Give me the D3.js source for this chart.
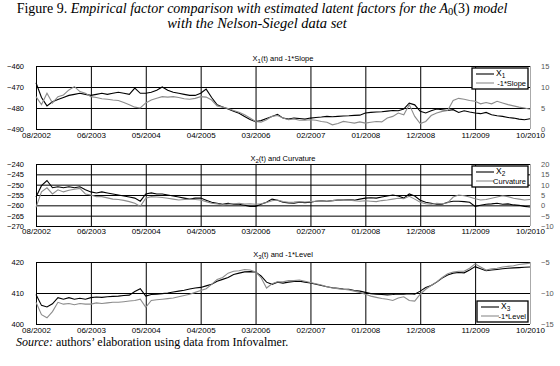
<!DOCTYPE html>
<html>
<head>
<meta charset="utf-8">
<script src="https://cdnjs.cloudflare.com/ajax/libs/d3/7.8.5/d3.min.js"></script>
<style>
  body { margin: 0; background: #fff; }
</style>
</head>
<body>
<div id="chart"></div>
<script>
// x axis labels, one every 10 samples
var tickLabels = ["08/2002", "06/2003", "05/2004", "04/2005", "03/2006",
  "02/2007", "01/2008", "12/2008", "11/2009", "10/2010"];

// panel 1 : X1 (left axis) and -1*Slope (right axis)
var x1 = [
  -468, -475, -479, -477, -476, -475, -474, -473.5, -473, -473.5,
  -474, -473.5, -473, -473.5, -473, -472.5, -473, -473.5, -470.5, -473,
  -473, -472.5, -471.5, -470, -471.5, -472.5, -473, -473.5, -474, -474,
  -473, -471, -475, -478.5, -479.5, -480.5, -481.5, -482.5, -484, -485.5,
  -486.5, -486, -485, -484, -483, -484.8, -485.3, -484.8, -485, -485.3,
  -484.8, -484.5, -484.3, -484, -484.2, -484, -483.8, -483.7, -483.5, -483.4,
  -482.4, -482.1, -481.9, -481.8, -481.5, -481.2, -481.3, -480.5, -477.7, -478.5,
  -481.6, -482.4, -481.3, -480.5, -480.8, -481.2, -480.8, -482.1, -481.3, -481.9,
  -482.4, -482.7, -482.1, -483.2, -483.7, -484, -484.5, -484.8, -485.3, -485.6,
  -485.1
];
var slope = [
  7.7, 5.8, 8.5, 6.2, 7.7, 8.1, 9.3, 10.1, 8.9, 8.5,
  7.7, 7.5, 7.2, 7.1, 6.9, 6.8, 6.3, 5.8, 5.2, 5.0,
  6.2, 6.9, 7.3, 7.7, 7.6, 7.7, 7.5, 7.2, 7.1, 7.3,
  7.7, 7.6, 6.9, 5.5, 5.2, 4.9, 4.4, 4.0, 3.4, 2.6,
  1.8, 1.6, 2.2, 3.0, 3.2, 2.6, 2.2, 2.4, 2.1, 2.1,
  2.2, 2.1, 1.8, 1.6, 1.0, 1.3, 1.8, 1.6, 1.4, 1.7,
  1.4, 1.6, 1.8, 1.7, 2.6, 3.0, 3.8, 3.4, 5.8, 3.0,
  1.3, 1.8, 3.2, 3.8, 4.2, 4.4, 6.8, 7.3, 7.1, 6.8,
  6.6, 6.0, 6.3, 6.0, 6.6, 6.2, 5.8, 5.5, 5.2, 5.0,
  4.7
];

// panel 2 : X2 (left axis) and Curvature (right axis)
var x2 = [
  -256, -250.5, -248, -251.5, -251, -251.5, -251, -251.5, -251, -252.5,
  -253.5, -254, -253.5, -254, -254.5, -255, -255.5, -256, -256.5, -258,
  -254.5, -254, -254.5, -254.5, -255, -255.5, -256, -256.5, -257, -256.5,
  -256.5, -257.5, -258.5, -259, -259.5, -259, -259.5, -259.5, -260, -260.5,
  -260.5, -259.5, -258.5, -257, -257.5, -258.5, -258.8, -259, -258.5, -258.7,
  -258.5, -258, -257.8, -258, -257.7, -257.5, -257.5, -257.3, -257.5, -257,
  -256.5, -256.3, -256.5, -256, -255.5, -255, -255.5, -256.5, -254.5, -255.5,
  -257.5, -258.5, -259, -259.5, -259.5, -258.5, -258, -258, -258.2, -258.5,
  -260.5, -260, -259.5, -259.3, -259, -259.5, -259.3, -259.8, -260, -260.5,
  -260.8
];
var curvature = [
  -1, 6.5, 8.5, 5.5, 7.5, 6.5, 7.3, 7.8, 8.2, 5.5,
  5.0, 4.2, 4.2, 3.6, 3.0, 2.8, 2.4, 1.8, 1.0, -0.5,
  3.4, 4.2, 4.0, 3.8, 3.4, 3.0, 2.6, 2.8, 3.0, 2.8,
  2.6, 1.8, 1.0, 0.7, 0.2, 0.5, 0.8, 1.0, 0.6, 0.8,
  0.5, 0.8, 1.4, 2.2, 2.6, 1.8, 1.5, 1.6, 1.8, 1.6,
  1.8, 2.0, 2.2, 2.0, 2.3, 2.6, 2.4, 2.5, 2.2, 2.0,
  2.2, 2.0, 1.8, 2.3, 2.6, 3.0, 3.4, 3.2, 4.4, 3.0,
  1.5, 0.8, 0.5, 1.0, 0.8, 1.2, 4.0, 5.0, 4.6, 4.0,
  3.2, 2.6, 2.8, 3.4, 4.0, 4.6, 4.2, 3.4, 3.0, 2.6,
  2.8
];

// panel 3 : X3 (left axis) and -1*Level (right axis)
var x3 = [
  409.5, 406, 405.5, 406.5, 408.5, 408, 408.5, 408, 408.3, 408,
  408.5, 408.7, 408.6, 408.8, 408.9, 409, 409.2, 409.3, 410.5, 411.4,
  409, 409.5, 409.6, 409.8, 410, 410.3, 410.6, 410.9, 411.3, 411.6,
  411.8, 412.3, 412.8, 413.8, 414.4, 415, 416, 416.4, 416.8, 416.9,
  416.8, 415.5, 413.5, 412.8, 413.5, 413.2, 413.5, 413.7, 413.8, 413.5,
  413.2, 412.8, 412.4, 412, 411.7, 411.5, 411.3, 411.2, 410.8, 410.6,
  410.2, 409.8, 409.6, 409.5, 409.4, 409.5, 409.7, 409.6, 409.8, 409.6,
  410.6, 411.8, 412.4, 413.5, 414.8, 415.8, 416.4, 416.6, 416.5, 417.4,
  418.5, 417.8, 417.2, 417.4, 417.6, 417.8, 418, 418.1, 418.2, 418.3,
  418.4
];
var level = [
  -11.5, -13.5, -14, -13, -11.5, -11.8, -11.7, -11.9, -11.7, -11.8,
  -11.8, -11.6, -11.7, -11.6, -11.5, -11.5, -11.4, -11.3, -11.2, -11,
  -12.3, -11.2, -11.1, -11, -10.9, -10.8, -10.6, -10.4, -10.2, -9.9,
  -9.6, -9.3, -8.6, -7.8, -7.5, -6.8, -6.5, -6.4, -6.2, -6.3,
  -6.6, -7.5, -9.2, -8.5, -8.2, -8.2, -8.0, -8.0, -7.9, -8.1,
  -8.3, -8.5, -8.7, -9.0, -9.2, -9.3, -9.4, -9.5, -9.7, -9.9,
  -10.2, -10.5, -10.7, -10.9, -11.0, -11.2, -10.8, -10.6, -11.2, -11.3,
  -10.2, -9.4, -8.8, -8.2, -7.5, -6.9, -6.6, -6.5, -6.5, -6.0,
  -5.3, -5.8, -6.3, -6.1, -6.0, -5.8, -5.7, -5.6, -5.4, -5.3,
  -5.2
];

var width = 560, height = 366;
var plotLeft = 36, plotRight = 530;
var grey = "#8c8c8c";
var sans = "'Liberation Sans', Arial, sans-serif";
var serif = "'Liberation Serif', 'DejaVu Serif', serif";

var svg = d3.select("#chart").append("svg")
  .attr("width", width)
  .attr("height", height)
  .style("font-family", sans);

svg.append("rect").attr("width", width).attr("height", height).attr("fill", "#fff");

var x = d3.scaleLinear().domain([0, x1.length - 1]).range([plotLeft, plotRight]);
var tickIdx = tickLabels.map((d, i) => i * 10);

// figure caption
var cap = svg.append("text")
  .attr("x", 262).attr("y", 13)
  .attr("text-anchor", "middle")
  .attr("font-family", serif)
  .attr("font-size", 14);
cap.append("tspan").text("Figure 9. ");
cap.append("tspan").attr("font-style", "italic")
  .text("Empirical factor comparison with estimated latent factors for the A");
cap.append("tspan").attr("font-size", 10.5).attr("dy", 2).text("0");
cap.append("tspan").attr("dy", -2).text("(3)");
cap.append("tspan").attr("font-style", "italic").text(" model");

svg.append("text")
  .attr("x", 257).attr("y", 27.5)
  .attr("text-anchor", "middle")
  .attr("font-family", serif)
  .attr("font-style", "italic")
  .attr("font-size", 14.5)
  .text("with the Nelson-Siegel data set");

// source line
var src = svg.append("text")
  .attr("x", 16).attr("y", 346)
  .attr("font-family", serif)
  .attr("font-size", 12);
src.append("tspan").attr("font-style", "italic").text("Source:");
src.append("tspan").text(" authors\u2019 elaboration using data from Infovalmer.");

function drawPanel(p) {
  var yL = d3.scaleLinear().domain(p.leftDomain).range([p.bottom, p.top]);
  var yR = d3.scaleLinear().domain(p.rightDomain).range([p.bottom, p.top]);
  var g = svg.append("g");

  // vertical grid + date labels
  var xAxis = g.append("g")
    .attr("transform", "translate(0," + p.bottom + ")")
    .call(d3.axisBottom(x)
      .tickValues(tickIdx)
      .tickFormat((d, i) => tickLabels[i])
      .tickSize(-(p.bottom - p.top))
      .tickPadding(p.labelPad));
  xAxis.select(".domain").remove();
  xAxis.selectAll("line").attr("stroke", "#000");
  xAxis.selectAll(".tick").filter(d => d === 90).select("line").attr("stroke", "#aaa");
  xAxis.selectAll("text").attr("fill", "#000").attr("font-size", 8)
    .attr("font-family", sans);

  // horizontal grid + left labels
  var yAxis = g.append("g")
    .attr("transform", "translate(" + plotLeft + ",0)")
    .call(d3.axisLeft(yL)
      .tickValues(p.leftTicks)
      .tickSize(-(plotRight - plotLeft))
      .tickPadding(12));
  yAxis.select(".domain").remove();
  yAxis.selectAll("line").attr("stroke", "#000");
  yAxis.selectAll("text").attr("fill", "#000").attr("font-size", 7.5)
    .attr("font-family", sans);

  // right axis labels
  var rAxis = g.append("g")
    .attr("transform", "translate(" + plotRight + ",0)")
    .call(d3.axisRight(yR)
      .tickValues(p.rightTicks)
      .tickSize(0)
      .tickPadding(11));
  rAxis.select(".domain").remove();
  rAxis.selectAll("text").attr("fill", "#555").attr("font-size", 7.5)
    .attr("font-family", sans);

  // series
  var lineL = d3.line().x((d, i) => x(i)).y(d => yL(d));
  var lineR = d3.line().x((d, i) => x(i)).y(d => yR(d));

  g.append("path").datum(p.leftSeries)
    .attr("d", lineL)
    .attr("fill", "none").attr("stroke", "#000").attr("stroke-width", 1.1);
  g.append("path").datum(p.rightSeries)
    .attr("d", lineR)
    .attr("fill", "none").attr("stroke", grey).attr("stroke-width", 1.1);

  // panel title
  var t = g.append("text")
    .attr("x", 283).attr("y", p.titleY)
    .attr("text-anchor", "middle")
    .attr("font-size", 7.5);
  t.append("tspan").text("X");
  t.append("tspan").attr("font-size", 6).attr("dy", 2).text(p.sub);
  t.append("tspan").attr("dy", -2).text(p.titleRest);

  // legend
  var lg = g.append("g").attr("transform", "translate(" + p.legend.x + "," + p.legend.y + ")");
  lg.append("rect")
    .attr("width", p.legend.w).attr("height", 21)
    .attr("fill", "#fff").attr("stroke", "#000").attr("stroke-width", 1.3);
  lg.append("line")
    .attr("x1", 4).attr("x2", 22).attr("y1", 6).attr("y2", 6)
    .attr("stroke", "#000").attr("stroke-width", 1.1);
  lg.append("line")
    .attr("x1", 4).attr("x2", 22).attr("y1", 15).attr("y2", 15)
    .attr("stroke", grey).attr("stroke-width", 1.1);
  var l1 = lg.append("text").attr("x", 24).attr("y", 8).attr("font-size", 8.5);
  l1.append("tspan").text("X");
  l1.append("tspan").attr("font-size", 6.5).attr("dy", 2).text(p.sub);
  lg.append("text").attr("x", p.legend.w - 2).attr("y", 17.5)
    .attr("text-anchor", "end").attr("font-size", 7.5)
    .text(p.legendName);
}

drawPanel({
  top: 66, bottom: 129, labelPad: 3,
  leftDomain: [-490, -460], leftTicks: [-490, -480, -470, -460],
  rightDomain: [0, 15], rightTicks: [0, 5, 10, 15],
  leftSeries: x1, rightSeries: slope,
  titleY: 61, sub: "1", titleRest: "(t) and -1*Slope",
  legend: { x: 472, y: 68, w: 56 }, legendName: "-1*Slope"
});

drawPanel({
  top: 164, bottom: 226, labelPad: 2,
  leftDomain: [-270, -240], leftTicks: [-270, -265, -260, -255, -250, -245, -240],
  rightDomain: [-10, 20], rightTicks: [-10, -5, 0, 5, 10, 15, 20],
  leftSeries: x2, rightSeries: curvature,
  titleY: 161, sub: "2", titleRest: "(t) and Curvature",
  legend: { x: 472, y: 166, w: 56 }, legendName: "Curvature"
});

drawPanel({
  top: 262, bottom: 324, labelPad: 3,
  leftDomain: [400, 420], leftTicks: [400, 410, 420],
  rightDomain: [-15, -5], rightTicks: [-15, -10, -5],
  leftSeries: x3, rightSeries: level,
  titleY: 257, sub: "3", titleRest: "(t) and -1*Level",
  legend: { x: 477, y: 301, w: 51 }, legendName: "-1*Level"
});
</script>
</body>
</html>
